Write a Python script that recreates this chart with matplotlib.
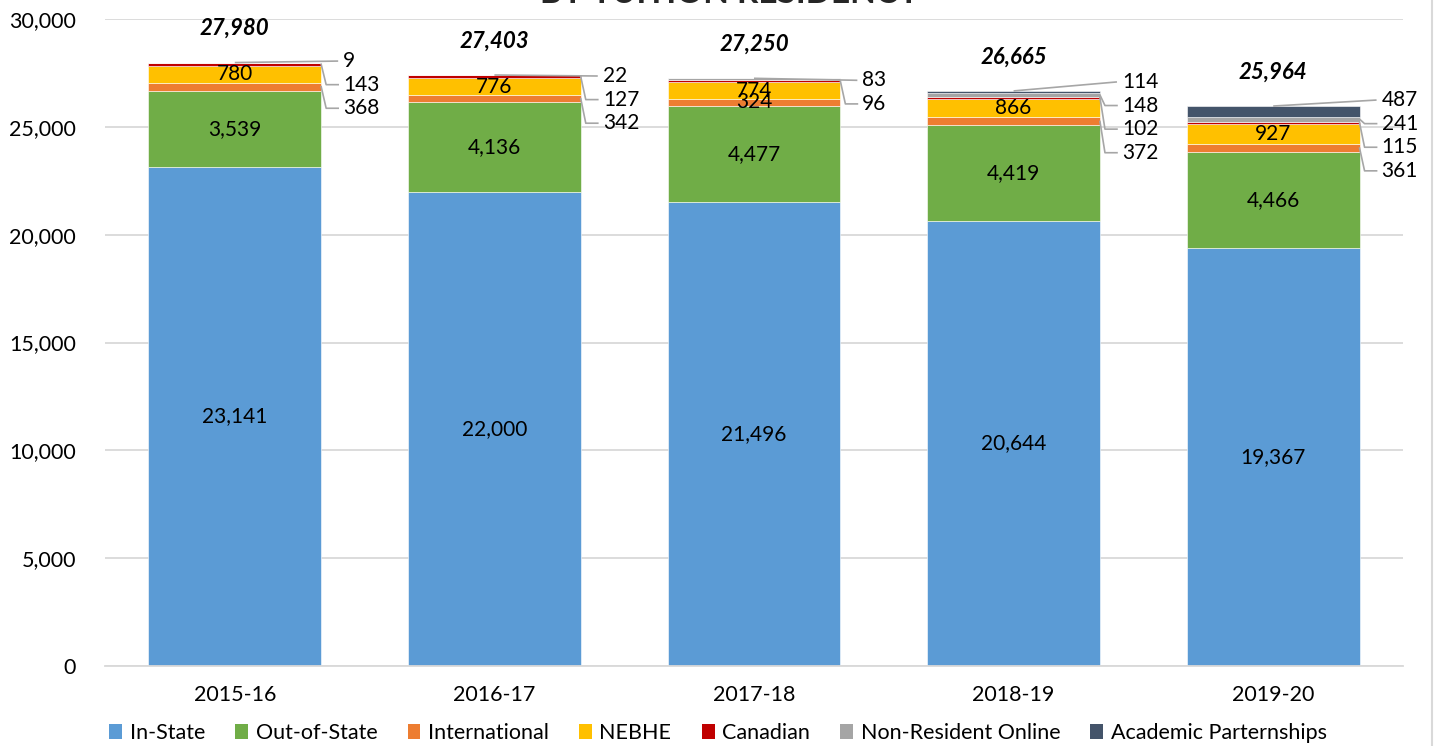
"""Enrollment by tuition residency: stacked bars, 2015-16 to 2019-20."""

import matplotlib
matplotlib.use("Agg")
import matplotlib.pyplot as plt
from matplotlib.lines import Line2D
from matplotlib.patches import Patch

plt.rcParams["font.family"] = ["Lato", "DejaVu Sans"]

years = ["2015-16", "2016-17", "2017-18", "2018-19", "2019-20"]
in_state = [23141, 22000, 21496, 20644, 19367]
out_of_state = [3539, 4136, 4477, 4419, 4466]
international = [368, 342, 324, 372, 361]
nebhe = [780, 776, 774, 866, 927]
canadian = [143, 127, 96, 102, 115]
nonres_online = [9, 22, 83, 148, 241]
academic = [0, 0, 0, 114, 487]

series_names = ["In-State", "Out-of-State", "International", "NEBHE",
                "Canadian", "Non-Resident Online", "Academic Parternships"]
series = [in_state, out_of_state, international, nebhe, canadian,
          nonres_online, academic]
colors = ["#5B9BD5", "#70AD47", "#ED7D31", "#FFC000", "#C00000",
          "#A5A5A5", "#44546A"]

# which series are labelled inside the bar (index into series); others go to the side
inside = [[0, 1, 3], [0, 1, 3], [0, 1, 2, 3], [0, 1, 3], [0, 1, 3]]
# vertical shift (px) of the first side label relative to the bar top
side_shift_px = [-1.5, 1, 2, -9, -6]

W, H = 1436, 746
fig = plt.figure(figsize=(W / 100, H / 100), dpi=100)
ax_l, ax_b, ax_w, ax_h = 105 / W, 1 - 666 / H, 1298 / W, 647 / H
ax = fig.add_axes([ax_l, ax_b, ax_w, ax_h])

YMAX = 30000
ax.set_xlim(-0.5, 4.5)
ax.set_ylim(0, YMAX)
xu = 5 / 1298       # x data units per pixel
yu = YMAX / 647     # y data units per pixel

x = list(range(len(years)))
bw = 173 / 260
bottoms = [0] * len(years)
seg_lo = []
for vals, col in zip(series, colors):
    ax.bar(x, vals, bw, bottom=bottoms, color=col, edgecolor="white",
           linewidth=0.4, zorder=2)
    seg_lo.append(list(bottoms))
    bottoms = [b + v for b, v in zip(bottoms, vals)]
totals = bottoms

for xi in x:
    # labels inside bars
    for si in inside[xi]:
        v = series[si][xi]
        ax.text(xi, seg_lo[si][xi] + v / 2, f"{v:,}", ha="center",
                va="center", fontsize=15, color="black", zorder=4)

    # side labels with leader lines, top segment first
    side = [si for si in range(len(series) - 1, -1, -1)
            if si not in inside[xi] and series[si][xi] > 0]
    right = xi + bw / 2
    lab_x = right + 22 * xu
    for k, si in enumerate(side):
        v = series[si][xi]
        ly = totals[xi] - (side_shift_px[xi] + k * 23.6) * yu
        ax.text(lab_x, ly, f"{v:,}", ha="left", va="center", fontsize=15,
                color="black", zorder=4)
        if k == 0:
            top = seg_lo[si][xi] + v
            ax.plot([xi, lab_x - 5 * xu], [top, ly], color="#A6A6A6",
                    lw=1.2, zorder=3, solid_capstyle="butt")
        else:
            cy = seg_lo[si][xi] + v / 2
            ax.plot([right, right + 5 * xu, lab_x - 5 * xu], [cy, ly, ly],
                    color="#A6A6A6", lw=1.2, zorder=3)

    ax.annotate(f"{totals[xi]:,}", (xi, totals[xi]), xytext=(0, 24.5),
                textcoords="offset points", ha="center", va="center",
                fontsize=16, fontweight="bold", fontstyle="italic", zorder=4)

ax.set_yticks(range(0, YMAX + 1, 5000))
ax.set_yticklabels([f"{t:,}" for t in range(0, YMAX + 1, 5000)])
ax.set_xticks(x)
ax.set_xticklabels(years)
ax.tick_params(axis="y", length=0, pad=21, labelsize=15.5)
ax.tick_params(axis="x", length=0, pad=14, labelsize=15.5)
ax.grid(axis="y", color="#D9D9D9", lw=1.3, zorder=0)
ax.set_axisbelow(True)
for s in ["top", "right", "left"]:
    ax.spines[s].set_visible(False)
ax.spines["bottom"].set_color("#D9D9D9")
ax.spines["bottom"].set_linewidth(1.3)

handles = [Patch(facecolor=c, edgecolor="none") for c in colors]
fig.legend(handles, series_names, loc="center", bbox_to_anchor=(0.5, 1 - 733 / H),
           ncol=7, frameon=False, fontsize=15.5, handlelength=0.6,
           handleheight=0.75, handletextpad=0.35, columnspacing=1.4)

# cropped chart title and chart-area border
fig.text(730 / W, 1 - 3 / H, "BY TUITION RESIDENCY", ha="center",
         va="baseline", fontsize=24, fontweight="bold", color="#262626")
fig.add_artist(Line2D([1432 / W, 1432 / W], [0, 1], color="#D9D9D9", lw=1.5))

fig.savefig("out.png", dpi=100)
